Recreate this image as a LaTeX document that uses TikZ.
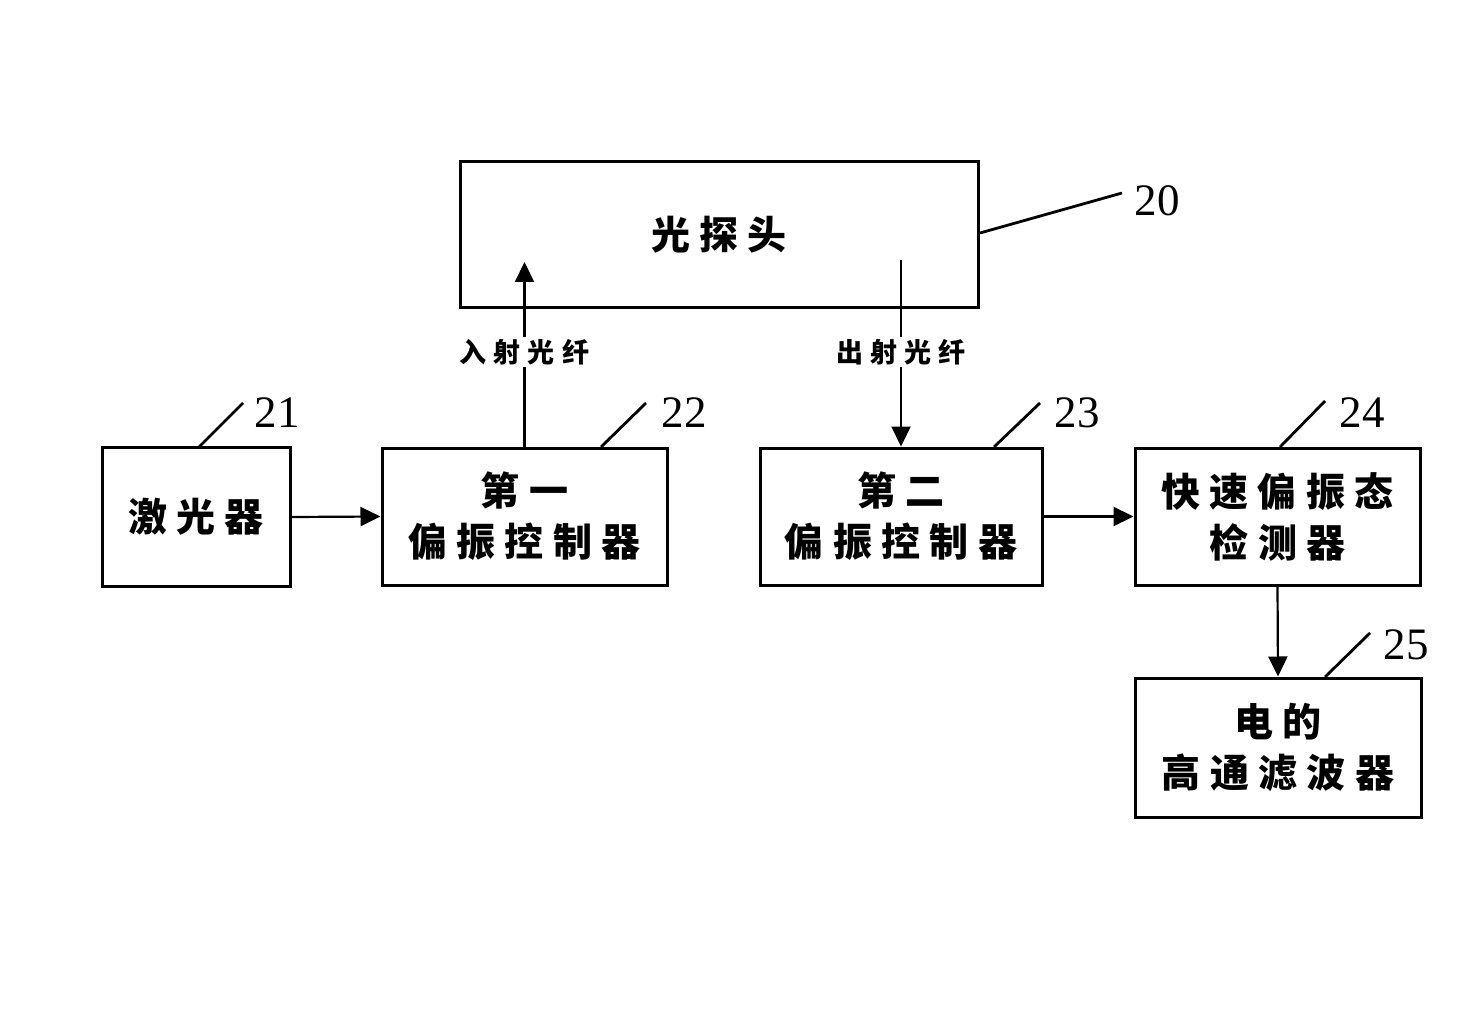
\documentclass[tikz,border=0pt]{standalone}
\usepackage{fontspec}
\setmainfont{Liberation Serif}
\newfontfamily\cjk{Noto Sans CJK SC}[LetterSpace=24]
\newfontfamily\cjksmall{Noto Sans CJK SC}[LetterSpace=26]
\usetikzlibrary{arrows.meta}
\tikzset{
  box/.style={draw, line width=3pt, inner sep=0pt, align=center, font=\cjk\bfseries\fontsize{39}{51}\selectfont},
  conn/.style={line width=2.2pt},
  arr/.style={line width=2.2pt, -{Triangle[length=20pt,width=19pt]}},
  lead/.style={line width=2.8pt},
  num/.style={font=\fontsize{45}{45}\selectfont, inner sep=0pt},
  fib/.style={font=\cjksmall\bfseries\fontsize{27}{30}\selectfont, inner sep=2pt},
}
\begin{document}
\begin{tikzpicture}[x=1pt,y=-1pt]
\useasboundingbox (0,0) rectangle (1481,1032);
% boxes
\node[box, minimum width=518pt, minimum height=146pt] (b20) at (719,235) {光探头};
\node[box, minimum width=188pt, minimum height=139pt] (b21) at (196,517) {激光器};
\node[box, minimum width=285pt, minimum height=137pt] (b22) at (524.5,516.5) {第一\\偏振控制器};
\node[box, minimum width=282pt, minimum height=137pt] (b23) at (901,516.5) {第二\\偏振控制器};
\node[box, minimum width=285pt, minimum height=137pt] (b24) at (1277.5,516.5) {快速偏振态\\检测器};
\node[box, minimum width=286pt, minimum height=139pt] (b25) at (1278,747.5) {电的\\高通滤波器};
% fiber labels
\node[fib] (f1) at (524.5,352) {入射光纤};
\node[fib] (f2) at (901,352) {出射光纤};
\coordinate (in20) at (524.5,262);
\coordinate (out20) at (901,260);
% connectors
\draw[conn] (b22.north) -- (f1.south);
\draw[arr] (f1.north) -- (in20);
\draw[conn] (out20) -- (f2.north);
\draw[arr] (f2.south) -- (b23.north);
\draw[arr] (b21.east) -- (b22.west);
\draw[arr] (b23.east) -- (b24.west);
\draw[arr] (b24.south) -- (b25.north);
% reference numbers
\node[num] (n20) at (1157,201) {20};
\node[num] (n21) at (277,413) {21};
\node[num] (n22) at (684,413) {22};
\node[num] (n23) at (1077,413) {23};
\node[num] (n24) at (1362,413) {24};
\node[num] (n25) at (1406,645) {25};
\coordinate (l20a) at (980,233); \coordinate (l20b) at (1122,193);
\coordinate (l21a) at (198,448); \coordinate (l21b) at (243,403);
\coordinate (l22a) at (601,447); \coordinate (l22b) at (646,403);
\coordinate (l23a) at (994,447); \coordinate (l23b) at (1040,403);
\coordinate (l24a) at (1280,447); \coordinate (l24b) at (1325,401);
\coordinate (l25a) at (1325,677); \coordinate (l25b) at (1370,633);
\draw[lead] (l20a) -- (l20b);
\draw[lead] (l21a) -- (l21b);
\draw[lead] (l22a) -- (l22b);
\draw[lead] (l23a) -- (l23b);
\draw[lead] (l24a) -- (l24b);
\draw[lead] (l25a) -- (l25b);
\end{tikzpicture}
\end{document}
